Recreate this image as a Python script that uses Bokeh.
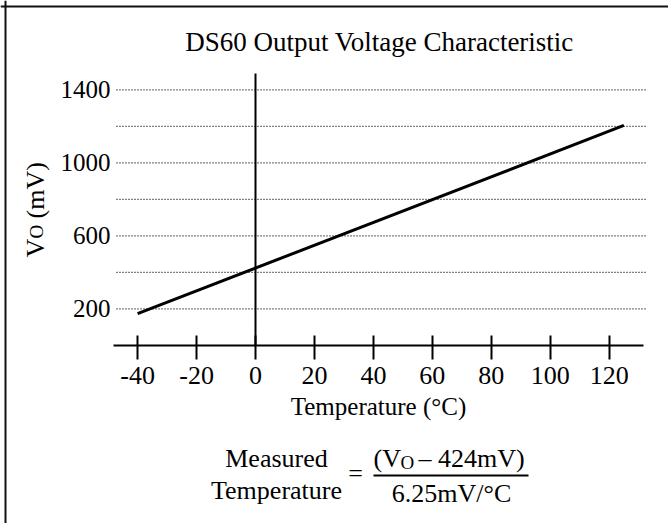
import math
from bokeh.plotting import figure
from bokeh.models import Range1d, FixedTicker, Span, Label, BoxAnnotation
from bokeh.embed import file_html
from bokeh.resources import INLINE

# ---- data ----
temperature_c = [-40, 125]
vout_mv = [174, 1205]
xtick_values = [-40, -20, 0, 20, 40, 60, 80, 100, 120]
xtick_labels = ["-40", "-20", "0", "20", "40", "60", "80", "100", "120"]
ytick_values = [200, 600, 1000, 1400]
ytick_labels = ["200", "600", "1000", "1400"]
ygrid_values = [200, 400, 600, 800, 1000, 1200, 1400]

FONT = "Liberation Serif"
INK = "black"

# ---- layout (pixels on the page) ----
W, H = 668, 523
PX_T0, PX_PER_C = 255.0, 2.947      # x pixel of 0 °C and pixels per °C
PX_V0, PX_PER_MV = 345.0, 0.18264   # y pixel of 0 mV and pixels per mV
LIFT = 10                           # label baseline correction (px)


def dx(px):
    return (px - PX_T0) / PX_PER_C


def dy(py):
    return (PX_V0 - py) / PX_PER_MV


p = figure(width=W, height=H, output_backend="svg", toolbar_location=None,
           x_range=Range1d(dx(0), dx(W)), y_range=Range1d(dy(H), dy(0)),
           min_border=0)
p.min_border_left = p.min_border_right = p.min_border_top = p.min_border_bottom = 0
p.outline_line_color = None
p.background_fill_color = "white"
p.border_fill_color = "white"
p.xgrid.visible = False
p.ygrid.visible = False

# x axis, drawn at 0 mV
xa = p.xaxis[0]
xa.fixed_location = 0
xa.bounds = (dx(113), dx(643))
xa.ticker = FixedTicker(ticks=xtick_values)
xa.major_label_overrides = {v: s for v, s in zip(xtick_values, xtick_labels)}
xa.axis_line_width = 2
xa.axis_line_color = INK
xa.major_tick_line_width = 2
xa.major_tick_line_color = INK
xa.major_tick_in = 10
xa.major_tick_out = 14
xa.minor_tick_line_color = None
xa.major_label_text_font = FONT
xa.major_label_text_font_size = "26px"
xa.major_label_text_color = INK
xa.major_label_standoff = 7
xa.axis_label = "Temperature (°C)"
xa.axis_label_text_font = FONT
xa.axis_label_text_font_size = "25px"
xa.axis_label_text_font_style = "normal"
xa.axis_label_text_color = INK
xa.axis_label_standoff = 6

# y axis: labels only, left of the grid
ya = p.yaxis[0]
ya.fixed_location = dx(113)
ya.ticker = FixedTicker(ticks=ytick_values)
ya.major_label_overrides = {v: s for v, s in zip(ytick_values, ytick_labels)}
ya.axis_line_color = None
ya.major_tick_in = 0
ya.major_tick_out = 0
ya.minor_tick_line_color = None
ya.major_label_text_font = FONT
ya.major_label_text_font_size = "25px"
ya.major_label_text_color = INK
ya.major_label_standoff = 3

# dotted horizontal grid
n = len(ygrid_values)
p.segment(x0=[dx(116)] * n, x1=[dx(647)] * n, y0=ygrid_values, y1=ygrid_values,
          line_color=INK, line_width=1.2, line_dash="1 2")

# vertical axis line at 0 °C
p.segment(x0=[0], x1=[0], y0=[0], y1=[dy(73)], line_color=INK, line_width=2)

# characteristic line
p.line(temperature_c, vout_mv, line_color=INK, line_width=3)

# frame border (top and left)
p.add_layout(Span(location=dx(5), dimension="height", line_color="#111", line_width=2))
p.add_layout(Span(location=dy(6), dimension="width", line_color="#111", line_width=2))


def lab(px, py, text, size, align="left", angle=0.0):
    if angle:
        px -= LIFT
    else:
        py -= LIFT
    p.add_layout(Label(x=dx(px), y=dy(py), text=text, text_font=FONT,
                       text_font_size=f"{size}px", text_color=INK,
                       text_align=align, text_baseline="alphabetic",
                       angle=angle))


# title
lab(379, 51, "DS60 Output Voltage Characteristic", 27, "center")

# y axis label  V_O (mV), rotated
lab(45, 257, "V", 26, angle=math.pi / 2)
lab(46, 238, "O", 19, angle=math.pi / 2)
lab(45, 218, "(mV)", 26, angle=math.pi / 2)

# formula
lab(276, 468, "Measured", 26, "center")
lab(276, 500, "Temperature", 26, "center")
lab(355, 483, "=", 26, "center")
lab(373, 468, "(V", 26)
lab(400, 472, "O", 19)
lab(418, 468, "\u2013 424mV)", 26)
lab(451, 503, "6.25mV/°C", 26, "center")
p.add_layout(BoxAnnotation(left=dx(373), right=dx(528), top=dy(474), bottom=dy(476),
                           fill_color=INK, fill_alpha=1, line_color=None))

open("out.html", "w").write(file_html(p, INLINE))
